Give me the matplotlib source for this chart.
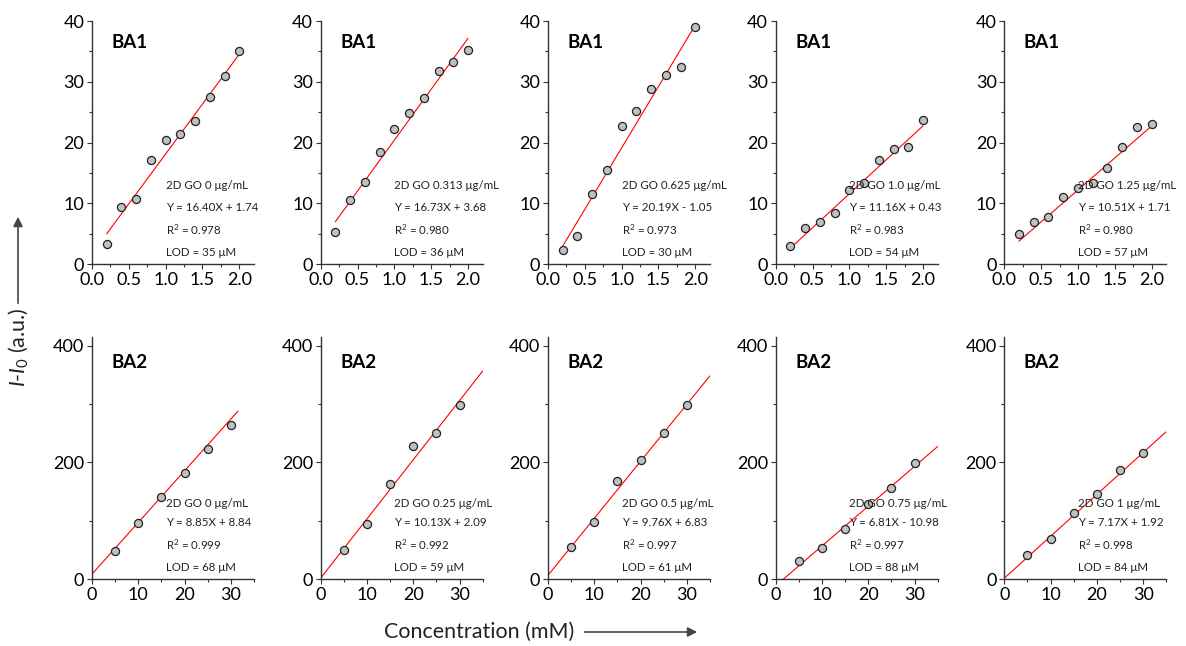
import numpy as np
import matplotlib
matplotlib.use("Agg")
import matplotlib.pyplot as plt
from matplotlib.ticker import MultipleLocator

plt.rcParams['font.family'] = ['Lato', 'DejaVu Sans']
plt.rcParams['mathtext.fontset'] = 'custom'
plt.rcParams['mathtext.rm'] = 'Lato'
plt.rcParams['mathtext.it'] = 'Lato:italic'

# BA1 (top row), x in mM
x_ba1 = [0.2, 0.4, 0.6, 0.8, 1.0, 1.2, 1.4, 1.6, 1.8, 2.0]
y_ba1 = [
    [3.3, 9.4, 10.7, 17.1, 20.5, 21.5, 23.6, 27.5, 30.9, 35.1],
    [5.3, 10.5, 13.5, 18.4, 22.3, 24.9, 27.3, 31.8, 33.3, 35.3],
    [2.4, 4.6, 11.6, 15.5, 22.8, 25.2, 28.9, 31.2, 32.5, 39.0],
    [3.0, 6.0, 6.9, 8.5, 12.2, 13.4, 17.1, 18.9, 19.3, 23.8],
    [4.9, 6.9, 7.7, 11.0, 12.5, 13.4, 15.8, 19.3, 22.5, 23.1],
]
go_ba1 = ['0', '0.313', '0.625', '1.0', '1.25']
slope_ba1 = [16.40, 16.73, 20.19, 11.16, 10.51]
icpt_ba1 = [1.74, 3.68, -1.05, 0.43, 1.71]
r2_ba1 = ['0.978', '0.980', '0.973', '0.983', '0.980']
lod_ba1 = [35, 36, 30, 54, 57]

# BA2 (bottom row)
x_ba2 = [5, 10, 15, 20, 25, 30]
y_ba2 = [
    [48.5, 97, 141.5, 181.5, 222.5, 264],
    [50, 94, 163, 228, 251, 298],
    [55, 97.6, 168, 204, 251, 298],
    [32, 53.6, 86.7, 129.5, 157, 199],
    [41, 68.5, 113.5, 146.6, 187, 215.7],
]
go_ba2 = ['0', '0.25', '0.5', '0.75', '1']
slope_ba2 = [8.85, 10.13, 9.76, 6.81, 7.17]
icpt_ba2 = [8.84, 2.09, 6.83, -10.98, 1.92]
r2_ba2 = ['0.999', '0.992', '0.997', '0.997', '0.998']
lod_ba2 = [68, 59, 61, 88, 84]
line_end_ba2 = [31.5, 35, 35, 35, 35]

W, H = 1186, 646
fig = plt.figure(figsize=(W / 100, H / 100), dpi=100)

lefts = [92, 320.7, 548, 775.7, 1004.3]
axw = 162


def style_axes(ax):
    for s in ['top', 'right']:
        ax.spines[s].set_visible(False)
    for s in ['left', 'bottom']:
        ax.spines[s].set_color('#333333')
        ax.spines[s].set_linewidth(1.0)
    ax.tick_params(which='major', direction='out', length=3.5, width=0.8,
                   color='#333333', labelsize=13, pad=2)
    ax.tick_params(which='minor', direction='out', length=2.5, width=0.8,
                   color='#333333')


def fmt_eq(m, b):
    sign = '+' if b >= 0 else '-'
    return 'Y = %.2fX %s %.2f' % (m, sign, abs(b))


txt_kw = dict(fontsize=8.3, ha='left', va='center', color='#222222')

for i in range(5):
    # top row
    ax = fig.add_axes([lefts[i] / W, (H - 264.3) / H, axw / W, 243.3 / H])
    style_axes(ax)
    ax.scatter(x_ba1, y_ba1[i], s=34, facecolor='#c0c0c0',
               edgecolor='#222222', linewidth=0.9, zorder=3)
    xl = np.array([0.2, 2.0])
    ax.plot(xl, slope_ba1[i] * xl + icpt_ba1[i], color='red', lw=0.8, zorder=2)
    ax.set_xlim(0, 2.2)
    ax.set_ylim(0, 40)
    ax.xaxis.set_major_locator(MultipleLocator(0.5))
    ax.xaxis.set_minor_locator(MultipleLocator(0.25))
    ax.yaxis.set_major_locator(MultipleLocator(10))
    ax.yaxis.set_minor_locator(MultipleLocator(5))
    ax.xaxis.set_major_formatter(lambda v, p: '%.1f' % v)
    ax.text(0.12, 0.911, 'BA1', transform=ax.transAxes, fontsize=13.5,
            fontweight='bold', ha='left', va='center')
    ax.text(0.454, 0.323, '2D GO %s \u03bcg/mL' % go_ba1[i], transform=ax.transAxes, **txt_kw)
    ax.text(0.454, 0.234, fmt_eq(slope_ba1[i], icpt_ba1[i]), transform=ax.transAxes, **txt_kw)
    ax.text(0.454, 0.141, 'R$^2$ = %s' % r2_ba1[i], transform=ax.transAxes, **txt_kw)
    ax.text(0.454, 0.049, 'LOD = %d \u03bcM' % lod_ba1[i], transform=ax.transAxes, **txt_kw)

    # bottom row
    ax = fig.add_axes([lefts[i] / W, (H - 579.3) / H, axw / W, 242.4 / H])
    style_axes(ax)
    ax.scatter(x_ba2, y_ba2[i], s=34, facecolor='#c0c0c0',
               edgecolor='#222222', linewidth=0.9, zorder=3)
    xl = np.array([0, line_end_ba2[i]])
    ax.plot(xl, slope_ba2[i] * xl + icpt_ba2[i], color='red', lw=0.8, zorder=2)
    ax.set_xlim(0, 35)
    ax.set_ylim(0, 415)
    ax.xaxis.set_major_locator(MultipleLocator(10))
    ax.xaxis.set_minor_locator(MultipleLocator(5))
    ax.yaxis.set_major_locator(MultipleLocator(200))
    ax.yaxis.set_minor_locator(MultipleLocator(100))
    ax.text(0.12, 0.895, 'BA2', transform=ax.transAxes, fontsize=13.5,
            fontweight='bold', ha='left', va='center')
    ax.text(0.454, 0.311, '2D GO %s \u03bcg/mL' % go_ba2[i], transform=ax.transAxes, **txt_kw)
    ax.text(0.454, 0.235, fmt_eq(slope_ba2[i], icpt_ba2[i]), transform=ax.transAxes, **txt_kw)
    ax.text(0.454, 0.1415, 'R$^2$ = %s' % r2_ba2[i], transform=ax.transAxes, **txt_kw)
    ax.text(0.454, 0.048, 'LOD = %d \u03bcM' % lod_ba2[i], transform=ax.transAxes, **txt_kw)

# shared axis labels with arrows
fig.text(479 / W, 1 - 632 / H, 'Concentration (mM)', fontsize=15.5,
         ha='center', va='center', color='#222222')
fig.add_artist(matplotlib.patches.FancyArrowPatch(
    (582 / W, 1 - 632 / H), (700 / W, 1 - 632 / H), transform=fig.transFigure,
    arrowstyle='-|>', mutation_scale=14, color='#444444', lw=1.2))

fig.text(18 / W, 1 - 347 / H, '$I$-$I_0$ (a.u.)', fontsize=15.5, rotation=90,
         ha='center', va='center', color='#222222')
fig.add_artist(matplotlib.patches.FancyArrowPatch(
    (18 / W, 1 - 306 / H), (18 / W, 1 - 214 / H), transform=fig.transFigure,
    arrowstyle='-|>', mutation_scale=14, color='#444444', lw=1.2))

fig.savefig('out.png', dpi=100)
